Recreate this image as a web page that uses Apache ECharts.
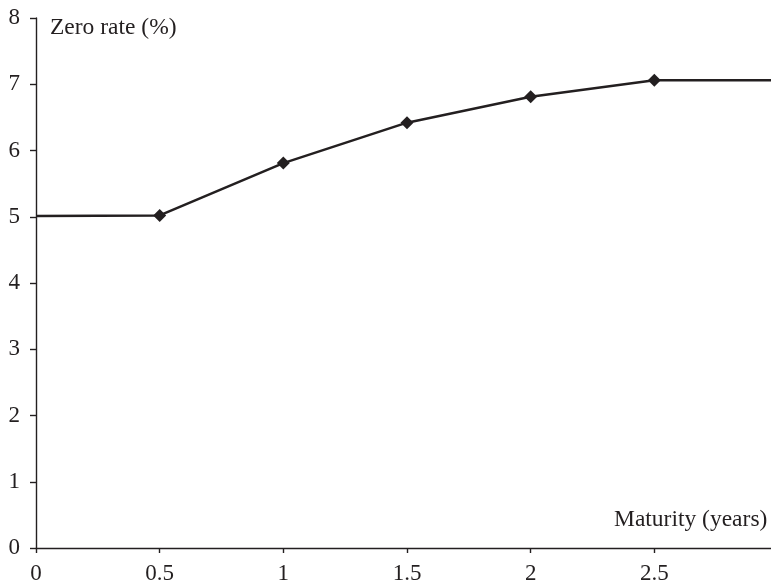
<!DOCTYPE html>
<html><head><meta charset="utf-8">
<script src="https://cdn.jsdelivr.net/npm/echarts@6/dist/echarts.min.js"></script>
<style>html,body{margin:0;padding:0;background:#fff}#c{width:771px;height:582px}</style>
</head><body><div id="c"></div>
<script>
const maturities = [0, 0.5, 1, 1.5, 2, 2.5, 3];
const zeroRates = [5.01, 5.02, 5.81, 6.42, 6.81, 7.06, 7.06];
const markerShown = [false, true, true, true, true, true, false];
const xTicks = [0, 0.5, 1, 1.5, 2, 2.5, 3];
const yTicks = [0, 1, 2, 3, 4, 5, 6, 7, 8];
const yTitle = 'Zero rate (%)';
const xTitle = 'Maturity (years)';

const ink = '#231f20';
const font = 'Liberation Serif';
const chart = echarts.init(document.getElementById('c'));
chart.setOption({
  animation: false,
  backgroundColor: '#fff',
  grid: {left: 36, top: 18, bottom: 34, right: -7, containLabel: false, outerBoundsMode: 'none'},
  xAxis: {
    type: 'value', min: 0, max: 3, interval: 0.5,
    axisLine: {show: true, lineStyle: {color: ink, width: 1.4}},
    axisTick: {show: true, length: 5, lineStyle: {color: ink, width: 1.4}},
    splitLine: {show: false},
    axisLabel: {color: ink, fontFamily: font, fontSize: 23, margin: 14, showMaxLabel: true,
      hideOverlap: false, formatter: v => String(v)}
  },
  yAxis: {
    type: 'value', min: 0, max: 8, interval: 1,
    axisLine: {show: true, lineStyle: {color: ink, width: 1.4}},
    axisTick: {show: true, length: 6, lineStyle: {color: ink, width: 1.4}},
    splitLine: {show: false},
    axisLabel: {color: ink, fontFamily: font, fontSize: 23, margin: 16}
  },
  series: [{
    type: 'line',
    data: maturities.map((m, i) => ({value: [m, zeroRates[i]], symbol: markerShown[i] ? 'diamond' : 'none'})),
    symbolSize: 13,
    lineStyle: {color: ink, width: 2.5},
    itemStyle: {color: ink},
    clip: false
  }],
  graphic: [
    {type: 'text', left: 50, top: 16, style: {text: yTitle, font: '23.5px "Liberation Serif"', fill: ink}},
    {type: 'text', left: 614, top: 508, style: {text: xTitle, font: '23.5px "Liberation Serif"', fill: ink}}
  ]
});
</script></body></html>
